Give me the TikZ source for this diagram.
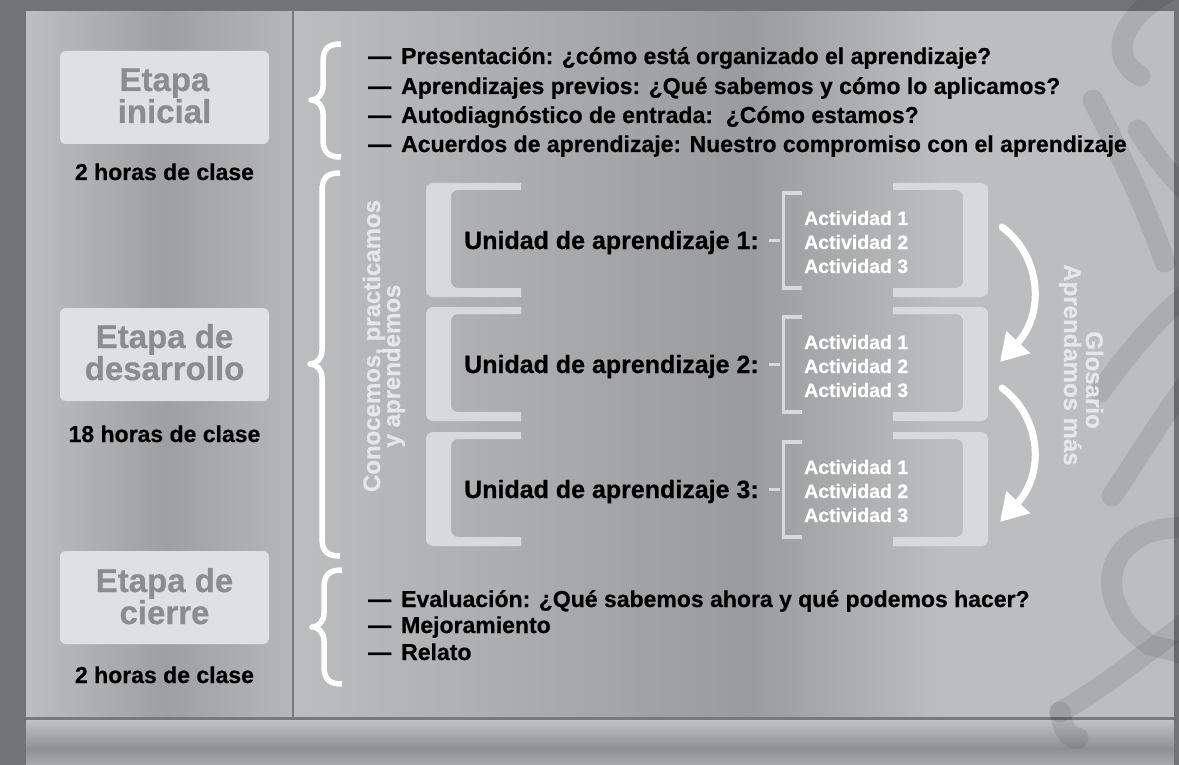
\documentclass[tikz,border=0pt]{standalone}
\usepackage{fontspec}
\setmainfont{Liberation Sans}[BoldFeatures={FakeBold=0.6}]
\usetikzlibrary{arrows.meta}
\definecolor{frame}{HTML}{727375}
\definecolor{panL}{HTML}{BCBDBF}
\definecolor{panD}{HTML}{9A9B9D}
\definecolor{colL}{HTML}{BDBEC0}
\definecolor{colD}{HTML}{9E9FA1}
\definecolor{colR}{HTML}{B6B7B9}
\definecolor{barL}{HTML}{C2C3C5}
\definecolor{barD}{HTML}{8E8F91}
\definecolor{barB}{HTML}{A9AAAC}
\definecolor{divline}{HTML}{78797B}
\definecolor{etbox}{HTML}{DFE0E2}
\definecolor{ettext}{HTML}{8B8C8E}
\definecolor{bracketc}{HTML}{D8D9DB}
\definecolor{rottext}{HTML}{E6E7E8}
\tikzset{
  etapabox/.style={fill=etbox, rounded corners=6pt},
  etapatext/.style={anchor=base, text=ettext, font=\fontsize{33}{30}\selectfont\bfseries, inner sep=0pt},
  hourtext/.style={anchor=base, text=black, font=\fontsize{23}{28}\selectfont\bfseries, inner sep=0pt},
  itemtext/.style={anchor=base west, text=black, font=\fontsize{23}{29}\selectfont\bfseries, inner sep=0pt},
  unittext/.style={anchor=base west, text=black, font=\fontsize{25}{30}\selectfont\bfseries, inner sep=0pt},
  acttext/.style={anchor=base west, text=white, font=\fontsize{19.5}{24}\selectfont\bfseries, inner sep=0pt},
  rottxt/.style={anchor=base, text=rottext, font=\fontsize{24}{24}\selectfont\bfseries, inner sep=0pt},
  bracestyle/.style={draw=white, line width=5.5pt, line join=round},
  smallbracket/.style={draw=bracketc, line width=3.5pt},
  linkdash/.style={draw=bracketc, line width=3pt},
  bigarrow/.style={draw=white, line width=7pt, line cap=round, -{Triangle[length=27pt,width=31pt]}},
  deco/.style={draw=black, draw opacity=0.085, line width=21pt, line cap=round},
}
\newcommand{\cbrace}[4]{% tip x, top y, mid y, bottom y
  \draw[bracestyle] (#1+30,#2) .. controls (#1+17,#2) and (#1+12,#2+5) .. (#1+12,#2+18)
    -- (#1+12,#3-14) .. controls (#1+12,#3-6) and (#1+7,#3) .. (#1,#3)
    .. controls (#1+7,#3) and (#1+12,#3+6) .. (#1+12,#3+14)
    -- (#1+12,#4-18) .. controls (#1+12,#4-5) and (#1+17,#4) .. (#1+30,#4);}
\newcommand{\unitbox}[2]{% top y, bottom y
  \begin{scope}
    \clip (426,#1) rectangle (521,#2);
    \fill[bracketc, even odd rule, rounded corners=7pt] (426,#1) rectangle (560,#2) (451,#1+7) rectangle (580,#2-9);
  \end{scope}
  \begin{scope}
    \clip (893,#1) rectangle (988,#2);
    \fill[bracketc, even odd rule, rounded corners=7pt] (850,#1) rectangle (988,#2) (830,#1+7) rectangle (963,#2-9);
  \end{scope}}
\begin{document}
\begin{tikzpicture}[x=1pt,y=-1pt]
\useasboundingbox (0,0) rectangle (1179,765);
% backgrounds
\shade[left color=colL, right color=colD] (26,11) rectangle (167,718);
\shade[left color=colD, right color=colR] (166,11) rectangle (293,718);
\shade[left color=panL, right color=panD] (293,11) rectangle (749,718);
\shade[left color=panD, right color=panL] (748,11) rectangle (941,718);
\fill[panL] (940,11) rectangle (1174,718);
\shade[top color=barL, bottom color=barD] (26,719) rectangle (1174,749);
\shade[top color=barD, bottom color=barB] (26,748) rectangle (1174,765);
% frame strips
\fill[frame] (0,0) rectangle (1179,11);
\fill[frame] (0,0) rectangle (26,765);
\fill[frame] (1174,0) rectangle (1179,765);
\draw[divline, line width=1.5pt] (293,11) -- (293,718);
\draw[divline, line width=2.5pt] (26,718.5) -- (1174,718.5);
% decorative strokes
\draw[deco] (1168,-8) .. controls (1125,15) and (1105,55) .. (1140,76);
\draw[deco] (1093,100) .. controls (1105,125) and (1140,190) .. (1165,262);
\draw[deco] (1138,130) .. controls (1150,150) and (1170,175) .. (1190,195);
\draw[deco] (1100,392) .. controls (1130,350) and (1160,315) .. (1190,292);
\draw[deco] (1190,380) .. controls (1160,420) and (1130,470) .. (1112,496);
\draw[deco] (1190,528) .. controls (1105,522) and (1085,600) .. (1150,645) -- (1190,655);
\draw[deco] (1060,712) .. controls (1100,690) and (1150,650) .. (1190,620);
\draw[deco] (1060,712) .. controls (1063,730) and (1070,740) .. (1078,738);
% left column: etapas
\fill[etapabox] (60,51) rectangle (269,144);
\node[etapatext] (e1a) at (164.5,91) {Etapa};
\node[etapatext] (e1b) at (164.5,123) {inicial};
\node[hourtext] (h1) at (164.5,180) {2 horas de clase};
\fill[etapabox] (60,308) rectangle (269,401);
\node[etapatext] (e2a) at (164.5,348) {Etapa de};
\node[etapatext] (e2b) at (164.5,380) {desarrollo};
\node[hourtext] (h2) at (164.5,442) {18 horas de clase};
\fill[etapabox] (60,551) rectangle (269,644);
\node[etapatext] (e3a) at (164.5,592) {Etapa de};
\node[etapatext] (e3b) at (164.5,624) {cierre};
\node[hourtext] (h3) at (164.5,683) {2 horas de clase};
% braces
\cbrace{311}{44}{100}{157}
\cbrace{310}{173}{364}{556}
\cbrace{312}{570}{627}{684}
% top list
\node[itemtext] (d1) at (368,64) {—};
\node[itemtext] (t1) at (401,64) {Presentación: ¿cómo está organizado el aprendizaje?};
\node[itemtext] (d2) at (368,94) {—};
\node[itemtext] (t2) at (401,94) {Aprendizajes previos: ¿Qué sabemos y cómo lo aplicamos?};
\node[itemtext] (d3) at (368,123) {—};
\node[itemtext] (t3) at (401,123) {Autodiagnóstico de entrada:\ \ ¿Cómo estamos?};
\node[itemtext] (d4) at (368,152) {—};
\node[itemtext] (t4) at (401,152) {Acuerdos de aprendizaje: Nuestro compromiso con el aprendizaje};
% bottom list
\node[itemtext] (d5) at (368,607) {—};
\node[itemtext] (t5) at (401,607) {Evaluación: ¿Qué sabemos ahora y qué podemos hacer?};
\node[itemtext] (d6) at (368,633) {—};
\node[itemtext] (t6) at (401,633) {Mejoramiento};
\node[itemtext] (d7) at (368,660) {—};
\node[itemtext] (t7) at (401,660) {Relato};
% rotated texts
\node[rottxt, rotate=90, text depth=0pt] (r1) at (380,346) {Conocemos, practicamos};
\node[rottxt, rotate=90, text height=12pt] (r2) at (400,366) {y aprendemos};
\node[rottxt, rotate=-90, text height=12pt] (g1) at (1086,380) {Glosario};
\node[rottxt, rotate=-90, text depth=0pt] (g2) at (1064,365) {Aprendamos más};
% units
\foreach \c/\n in {240/1,364/2,489/3}{
  \unitbox{\c-57}{\c+57}
  \node[unittext] (u\n) at (464,\c+9) {Unidad de aprendizaje \n:};
  \coordinate (la\n) at (769,\c);
  \coordinate (lb\n) at (780,\c);
  \draw[linkdash] (la\n) -- (lb\n);
  \coordinate (bt\n) at (802,\c-47);
  \coordinate (bb\n) at (802,\c+48);
  \draw[smallbracket] (bt\n) -- (783.5,\c-47) -- (783.5,\c+48) -- (bb\n);
  \node[acttext] (a\n a) at (804,\c-15) {Actividad 1};
  \node[acttext] (a\n b) at (804,\c+9) {Actividad 2};
  \node[acttext] (a\n c) at (804,\c+33) {Actividad 3};
}
% curved arrows
\coordinate (ar1s) at (1002,227);
\coordinate (ar1e) at (1000,362);
\coordinate (ar2s) at (1002,388);
\coordinate (ar2e) at (1000,522);
\draw[bigarrow] (ar1s) .. controls (1040,255) and (1046,312) .. (ar1e);
\draw[bigarrow] (ar2s) .. controls (1040,416) and (1046,472) .. (ar2e);
\end{tikzpicture}
\end{document}
